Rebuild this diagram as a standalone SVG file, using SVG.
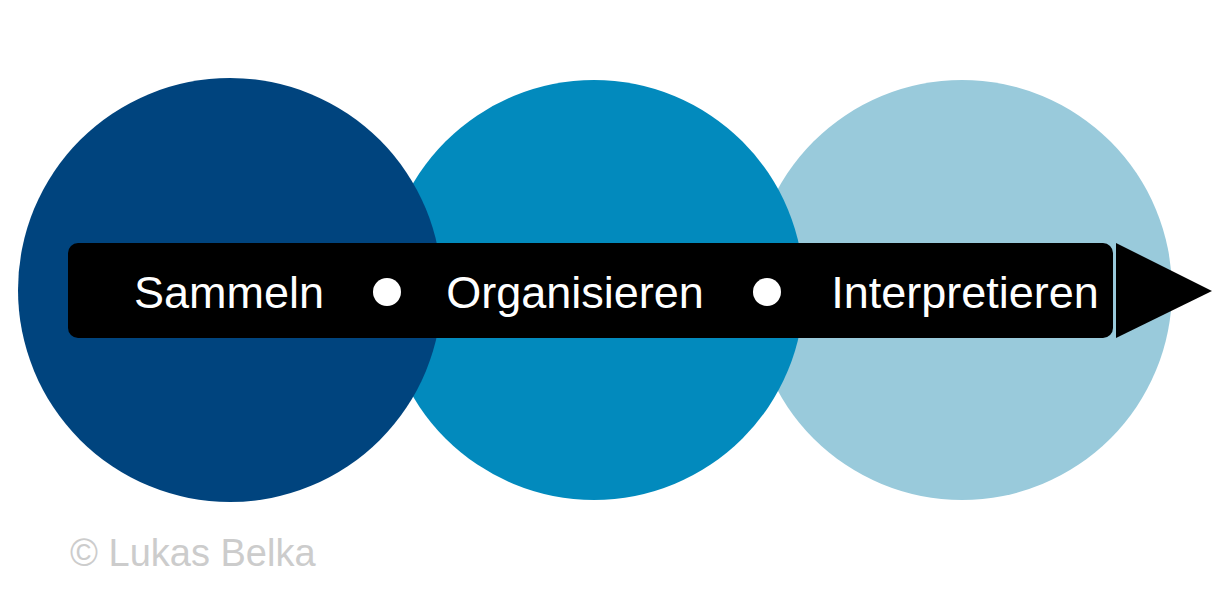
<svg xmlns="http://www.w3.org/2000/svg" width="1228" height="600" viewBox="0 0 1228 600">
<style>.t{font-family:"Liberation Sans",Arial,sans-serif;font-size:45px;fill:#fff}</style>
<rect width="1228" height="600" fill="#fff"/>
<g id="c3"><circle cx="962" cy="290" r="210" fill="#99cadb"/></g>
<g id="c2"><circle cx="594" cy="290" r="210" fill="#028abd"/></g>
<g id="c1"><circle cx="230" cy="290" r="212" fill="#00447e"/></g>
<g id="connectors">
<rect x="68" y="243" width="1045" height="95" rx="10" fill="#000"/>
<polygon points="1116,243 1212,291 1116,338" fill="#000"/>
<circle cx="387" cy="292" r="14" fill="#fff"/>
<circle cx="767" cy="292" r="14" fill="#fff"/>
</g>
<g id="labels">
<text class="t" x="229" y="308" text-anchor="middle">Sammeln</text>
<text class="t" x="575" y="308" text-anchor="middle">Organisieren</text>
<text class="t" x="965" y="308" text-anchor="middle">Interpretieren</text>
</g>
<text x="70" y="566" font-family="Liberation Sans,Arial,sans-serif" font-size="38" fill="#cccccc">© Lukas Belka</text>
</svg>
